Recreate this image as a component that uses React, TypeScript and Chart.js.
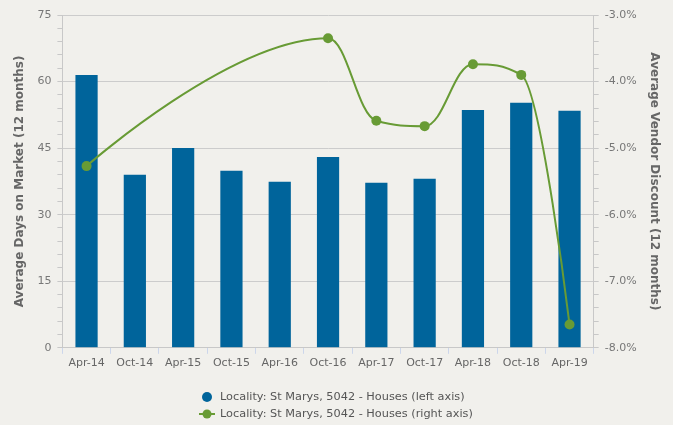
import React, { useEffect, useRef } from "react";
import { Chart, registerables } from "chart.js";

Chart.register(...registerables);

const categories = ["Apr-14", "Oct-14", "Apr-15", "Oct-15", "Apr-16", "Oct-16", "Apr-17", "Oct-17", "Apr-18", "Oct-18", "Apr-19"];
const daysOnMarket = [61.5, 39.0, 45.0, 39.9, 37.4, 43.0, 37.2, 38.1, 53.6, 55.2, 53.4];
const vendorDiscount = [-5.27, null, null, null, null, -3.35, -4.59, -4.67, -3.74, -3.9, -7.65];
const leftSeriesName = "Locality: St Marys, 5042 - Houses (left axis)";
const rightSeriesName = "Locality: St Marys, 5042 - Houses (right axis)";

const BG = "#f1f0ec";
const BLUE = "#00649b";
const GREEN = "#689b35";
const FONT = "'DejaVu Sans', Verdana, sans-serif";

// Recompute bezier control points (spline smoothing that avoids overshoot at extremes)
const splinePlugin = {
  id: "splineCps",
  beforeDatasetDraw(chart: any, args: any) {
    const meta = args.meta;
    if (meta.type !== "line" || !meta.dataset) return;
    meta.dataset.updateControlPoints(chart.chartArea);
    const pts = meta.data.filter((p: any) => !p.skip);
    const s = 1.5;
    const d = s + 1;
    for (let i = 0; i < pts.length; i++) {
      const p = pts[i];
      const prev = pts[i - 1];
      const next = pts[i + 1];
      if (!prev || !next) {
        p.cp1x = p.x; p.cp1y = p.y; p.cp2x = p.x; p.cp2y = p.y;
        continue;
      }
      let lx = (s * p.x + prev.x) / d;
      let ly = (s * p.y + prev.y) / d;
      let rx = (s * p.x + next.x) / d;
      let ry = (s * p.y + next.y) / d;
      if (rx !== lx) {
        const corr = ((ry - ly) * (rx - p.x)) / (rx - lx) + p.y - ry;
        ly += corr;
        ry += corr;
      }
      if (ly > prev.y && ly > p.y) {
        ly = Math.max(prev.y, p.y);
        ry = 2 * p.y - ly;
      } else if (ly < prev.y && ly < p.y) {
        ly = Math.min(prev.y, p.y);
        ry = 2 * p.y - ly;
      }
      if (ry > next.y && ry > p.y) {
        ry = Math.max(next.y, p.y);
        ly = 2 * p.y - ry;
      } else if (ry < next.y && ry < p.y) {
        ry = Math.min(next.y, p.y);
        ly = 2 * p.y - ry;
      }
      p.cp1x = lx; p.cp1y = ly; p.cp2x = rx; p.cp2y = ry;
    }
  },
};

const legendPlugin = {
  id: "customLegend",
  afterDraw(chart: any) {
    const ctx = chart.ctx;
    ctx.save();
    ctx.font = `11.3px ${FONT}`;
    ctx.textBaseline = "middle";
    ctx.textAlign = "left";
    const x0 = 207;
    const y1 = 397;
    const y2 = 414;
    ctx.beginPath();
    ctx.arc(x0, y1, 5, 0, Math.PI * 2);
    ctx.fillStyle = BLUE;
    ctx.fill();
    ctx.fillStyle = "#555";
    ctx.fillText(leftSeriesName, x0 + 13, y1);
    ctx.strokeStyle = GREEN;
    ctx.lineWidth = 2;
    ctx.beginPath();
    ctx.moveTo(x0 - 8, y2);
    ctx.lineTo(x0 + 8, y2);
    ctx.stroke();
    ctx.beginPath();
    ctx.arc(x0, y2, 4.5, 0, Math.PI * 2);
    ctx.fillStyle = GREEN;
    ctx.fill();
    ctx.fillStyle = "#555";
    ctx.fillText(rightSeriesName, x0 + 13, y2);
    ctx.restore();
  },
};

const bgPlugin = {
  id: "bg",
  beforeDraw(chart: any) {
    const ctx = chart.ctx;
    ctx.save();
    ctx.fillStyle = BG;
    ctx.fillRect(0, 0, chart.width, chart.height);
    ctx.restore();
  },
};

export default function App() {
  const ref = useRef<HTMLCanvasElement>(null);
  useEffect(() => {
    document.body.style.margin = "0";
    document.body.style.background = BG;
    const chart = new Chart(ref.current!, {
      type: "bar",
      data: {
        labels: categories,
        datasets: [
          {
            type: "line",
            label: rightSeriesName,
            data: vendorDiscount as any,
            yAxisID: "y1",
            borderColor: GREEN,
            backgroundColor: GREEN,
            borderWidth: 2,
            pointRadius: 5,
            pointBackgroundColor: GREEN,
            pointBorderWidth: 0,
            spanGaps: true,
            tension: 0.4,
            order: 0,
          },
          {
            type: "bar",
            label: leftSeriesName,
            data: daysOnMarket,
            yAxisID: "y",
            backgroundColor: BLUE,
            borderWidth: 0,
            barPercentage: 0.46,
            categoryPercentage: 1,
            order: 1,
          },
        ],
      },
      options: {
        animation: false,
        responsive: false,
        maintainAspectRatio: false,
        layout: { padding: { left: 9, right: 8, top: 15, bottom: 52 } },
        plugins: { legend: { display: false }, tooltip: { enabled: false } },
        scales: {
          x: {
            grid: { display: true, drawOnChartArea: false, tickLength: 6, color: "#c8c8c8", tickColor: "#ccd6eb" },
            border: { color: "#c8c8c8" },
            ticks: { color: "#666", font: { family: FONT, size: 11 }, maxRotation: 0, autoSkip: false, padding: 3 },
          },
          y: {
            position: "left",
            min: 0,
            max: 75,
            border: { color: "#c8c8c8" },
            grid: {
              color: (c: any) => (c.tick && Math.round(c.tick.value) % 15 === 0 ? "#cccccc" : "rgba(0,0,0,0)"),
              tickColor: "#c8c8c8",
              tickLength: 5,
            },
            ticks: {
              stepSize: 3,
              autoSkip: false,
              color: "#777",
              font: { family: FONT, size: 11 },
              padding: 6,
              callback: (v: any) => (Math.round(v) % 15 === 0 ? String(Math.round(v)) : ""),
            },
            title: { display: true, text: "Average Days on Market (12 months)", color: "#666", font: { family: FONT, size: 12, weight: "bold" } },
          },
          y1: {
            position: "right",
            min: -8,
            max: -3,
            border: { color: "#c8c8c8" },
            grid: { drawOnChartArea: false, tickColor: "#c8c8c8", tickLength: 5 },
            ticks: {
              stepSize: 0.2,
              autoSkip: false,
              color: "#777",
              font: { family: FONT, size: 11 },
              padding: 6,
              callback: (v: any) => {
                const r = Math.round(v * 10) / 10;
                return Math.abs(r - Math.round(r)) < 1e-6 ? r.toFixed(1) + "%" : "";
              },
            },
            title: { display: true, text: "Average Vendor Discount (12 months)", color: "#666", font: { family: FONT, size: 12, weight: "bold" } },
          },
        },
      },
      plugins: [bgPlugin, splinePlugin, legendPlugin],
    });
    return () => chart.destroy();
  }, []);
  return <canvas ref={ref} width={673} height={425} style={{ display: "block", width: 673, height: 425 }} />;
}
